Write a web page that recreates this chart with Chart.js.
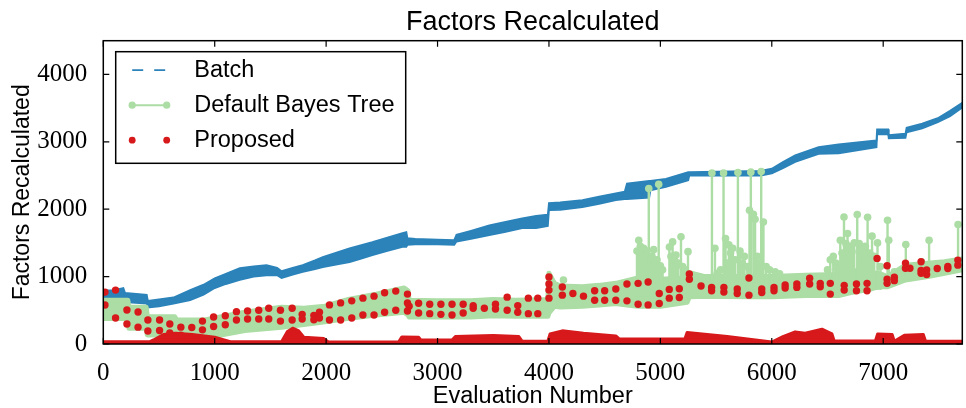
<!DOCTYPE html>
<html><head><meta charset="utf-8">
<script src="https://cdn.jsdelivr.net/npm/chart.js@4.4.1/dist/chart.umd.min.js"></script>
<style>html,body{margin:0;padding:0;background:#fff;}</style>
</head><body>
<canvas id="c" width="966" height="408"></canvas>
<script>
// ---------- text ----------
const titleText = 'Factors Recalculated';
const xLabel = 'Evaluation Number';
const yLabel = 'Factors Recalculated';
const seriesNames = ['Batch', 'Default Bayes Tree', 'Proposed'];
const xTicks = [0, 1000, 2000, 3000, 4000, 5000, 6000, 7000];
const yTicks = [0, 1000, 2000, 3000, 4000];

// ---------- Batch (band: lower / upper envelope) ----------
const batchX  = [0,100,180,195,390,400,500,630,780,900,1000,1100,1225,1350,1465,1560,1600,1700,1790,1900,1970,2100,2210,2300,2415,2550,2685,2720,2730,2800,3000,3150,3170,3300,3465,3600,3760,3885,3990,4000,4100,4300,4450,4600,4680,4700,4900,4910,5050,5250,5260,5900,6000,6100,6210,6420,6600,6940,6945,7045,7050,7200,7210,7350,7490,7600,7710];
const batchLo = [650,660,660,620,600,540,560,600,650,730,830,890,950,1000,1020,1020,980,1030,1070,1110,1140,1180,1215,1260,1320,1380,1440,1440,1470,1480,1480,1470,1520,1560,1615,1660,1720,1720,1750,1985,1990,2030,2080,2135,2150,2150,2170,2280,2330,2430,2500,2500,2530,2610,2700,2820,2830,2920,3110,3110,3050,3060,3140,3200,3290,3380,3510];
const batchHi = [790,800,830,760,730,640,660,690,800,880,975,1040,1125,1150,1170,1130,1080,1130,1170,1240,1290,1360,1420,1460,1510,1580,1645,1660,1570,1560,1550,1540,1620,1680,1760,1810,1865,1900,1920,2090,2100,2135,2185,2235,2260,2380,2420,2420,2450,2550,2550,2570,2600,2700,2800,2920,2960,3020,3185,3185,3100,3120,3210,3270,3350,3460,3580];

// ---------- Default Bayes Tree (band + spikes) ----------
const bayesX  = [0,220,230,385,395,640,660,910,1270,1600,1800,1990,2200,2450,2700,2735,2745,3000,3300,3500,3700,3990,4000,4050,4100,4300,4450,4600,4700,4800,5000,5240,5260,5400,5800,6000,6300,6600,6700,6900,6960,7040,7200,7400,7550,7710];
const bayesLo = [380,380,235,235,135,135,90,90,200,250,290,330,380,430,470,430,400,400,400,420,410,410,460,560,550,560,580,600,580,560,560,620,700,710,700,700,720,720,760,820,850,850,950,1000,1050,1100];
const bayesHi = [650,650,545,545,405,405,355,355,470,545,530,560,660,740,830,790,650,640,640,660,650,660,1050,900,860,850,870,900,940,980,960,980,1060,1000,1000,1000,1020,1030,1100,1050,1050,1000,1170,1200,1220,1260];
const spikeX    = [4130,4790,4806,4820,4835,4850,4865,4880,4896,4910,4925,4940,4955,4970,4985,5000,5020,5081,5095,5110,5125,5140,5160,5185,5200,5220,5248,5463,5490,5510,5540,5567,5585,5600,5615,5630,5650,5670,5696,5715,5735,5755,5780,5800,5812,5835,5850,5870,5890,5905,5925,5950,5980,6030,6070,6500,6525,6552,6575,6592,6615,6630,6648,6665,6680,6700,6720,6740,6767,6785,6805,6825,6840,6860,6880,6900,6920,6949,6975,7039,7050,7100,7203,7343,7412,7672];
const spikeTop  = [950,1380,1540,1450,1350,1420,1300,1380,2306,1250,1300,1400,1200,1250,2370,1160,1100,1440,1300,1515,1250,1320,1200,1590,1150,1100,1370,2538,1420,1050,1100,2538,1565,1200,1470,1350,1420,1250,2545,1380,1200,1300,1150,1985,2550,1925,1850,1300,1200,2560,1810,1150,1100,1070,1040,1100,1250,1300,1200,1120,1540,1350,1885,1490,1640,1450,1370,1500,1920,1490,1400,1300,1450,1880,1350,1600,1300,1500,1150,1837,1540,1070,1477,1220,1540,1773];
const spikeBase = [600,700,700,700,700,700,700,700,700,700,700,700,700,700,700,700,700,750,750,750,750,750,750,750,750,750,750,800,800,800,800,800,800,800,800,800,800,800,800,800,800,800,800,800,800,800,800,800,800,800,800,800,800,800,800,800,800,800,800,800,800,800,800,800,800,800,800,800,800,800,800,800,800,800,800,800,800,800,800,900,900,950,1000,1050,1050,1150];

// ---------- Proposed ----------
const propDotX    = [15,110,212,312,400,505,597,696,794,890,990,1095,1195,1295,1395,1485,1590,1695,1785,1890,1940,2030,2130,2230,2330,2430,2525,2625,2730,2830,2930,3030,3130,3230,3320,3420,3520,3625,3720,3815,3900,4000,4120,4215,4310,4410,4500,4600,4700,4800,4890,4990,5080,5170,5260,5365,5460,5570,5690,5795,5910,6020,6120,6225,6340,6435,6525,6650,6760,6855,6945,7035,7100,7200,7340,7390,7485,7580,7670];
const propDotHigh = [770,800,505,475,355,355,296,250,245,340,400,420,480,490,500,530,500,530,440,425,470,580,610,640,680,710,760,785,740,605,590,590,590,590,570,530,590,695,570,680,680,995,845,750,710,790,790,815,890,900,920,750,810,820,1040,860,840,840,815,980,815,840,875,890,975,900,900,870,890,900,1270,1160,990,1200,1220,1100,1120,1150,1245];
const propDotLow  = [578,385,296,250,193,200,163,130,null,210,260,285,355,370,370,370,340,355,370,360,385,355,355,385,430,430,470,500,490,460,450,440,430,460,530,null,520,500,470,450,450,800,725,null,null,650,650,650,640,590,580,600,680,690,960,null,790,770,750,725,765,790,830,840,890,850,740,800,790,790,null,960,940,1125,1090,1030,null,1120,1170];
const propExtraX  = [2730,2745,4000,4000,7035,7240,7340];
const propExtraY  = [610,560,890,680,900,1125,1050];
const propLowX = [0,420,450,540,650,800,1000,1140,1600,1650,1700,1750,1800,1980,2020,2650,2680,2830,2850,3130,3160,3500,3730,3760,3990,4010,4120,4310,4600,4630,5220,5240,5600,6000,6100,6210,6300,6450,6540,6560,6930,6950,7080,7100,7190,7360,7380,7710];
const propLowY = [35,35,60,140,160,140,100,35,35,180,235,200,100,80,30,30,105,100,60,60,110,125,110,40,40,150,195,160,120,75,75,170,110,30,110,180,160,220,150,45,45,150,140,40,130,140,40,40];

// ---------- colours ----------
const BLUE = '#2b83ba', GREEN = '#abdda4', RED = '#d7191c';
const SANS = "'Liberation Sans', Arial, Helvetica, sans-serif";
const SERIF = "'Liberation Serif', 'Times New Roman', serif";

// ---------- build library data ----------
const xy = (xs, ys) => xs.map((x, i) => ({x, y: ys[i]}));
const propDots = [];
propDotX.forEach((x, i) => {
  propDots.push({x, y: propDotHigh[i]});
  if (propDotLow[i] !== null) propDots.push({x, y: propDotLow[i]});
});
propExtraX.forEach((x, i) => propDots.push({x, y: propExtraY[i]}));
const spikeData = [], spikeRadius = [];
spikeX.forEach((x, i) => {
  spikeData.push({x, y: spikeBase[i]}, {x, y: spikeTop[i]}, {x, y: null});
  spikeRadius.push(0, 3.8, 0);
});

const frame = {
  id: 'frame',
  afterDatasetsDraw(chart) {
    const {ctx, chartArea: a, scales: {x, y}} = chart;
    ctx.save();
    ctx.strokeStyle = '#000';
    ctx.lineWidth = 1.5;
    ctx.strokeRect(a.left, a.top, a.right - a.left, a.bottom - a.top);
    ctx.lineWidth = 1.2;
    ctx.beginPath();
    xTicks.forEach(v => { const p = x.getPixelForValue(v);
      ctx.moveTo(p, a.bottom); ctx.lineTo(p, a.bottom - 6);
      ctx.moveTo(p, a.top); ctx.lineTo(p, a.top + 6); });
    yTicks.forEach(v => { const p = y.getPixelForValue(v);
      ctx.moveTo(a.left, p); ctx.lineTo(a.left + 6, p);
      ctx.moveTo(a.right, p); ctx.lineTo(a.right - 6, p); });
    ctx.stroke();
    ctx.restore();
  },
  afterDraw(chart) {
    const {ctx, chartArea: a} = chart;
    const bx = a.left + 12.4, by = a.top + 11, bw = 290, bh = 111.6;
    ctx.save();
    ctx.fillStyle = '#fff';
    ctx.fillRect(bx, by, bw, bh);
    ctx.strokeStyle = '#000'; ctx.lineWidth = 1.5;
    ctx.strokeRect(bx, by, bw, bh);
    const rows = [18.5, 53.5, 88.5];
    const sx0 = bx + 16.5, sx1 = bx + 51;
    // Batch: dashed
    let ry = by + rows[0];
    ctx.strokeStyle = BLUE; ctx.lineWidth = 1.8;
    ctx.beginPath(); ctx.moveTo(sx0, ry); ctx.lineTo(sx0 + 11, ry);
    ctx.moveTo(sx0 + 22, ry); ctx.lineTo(sx0 + 33, ry); ctx.stroke();
    // Bayes tree: line + markers
    ry = by + rows[1];
    ctx.strokeStyle = GREEN; ctx.lineWidth = 2;
    ctx.beginPath(); ctx.moveTo(sx0, ry); ctx.lineTo(sx1, ry); ctx.stroke();
    ctx.fillStyle = GREEN;
    [sx0, sx1].forEach(px => { ctx.beginPath(); ctx.arc(px, ry, 3.6, 0, Math.PI * 2); ctx.fill(); });
    // Proposed: markers only
    ry = by + rows[2];
    ctx.fillStyle = RED;
    [sx0, sx1].forEach(px => { ctx.beginPath(); ctx.arc(px, ry, 3.4, 0, Math.PI * 2); ctx.fill(); });
    ctx.fillStyle = '#000';
    ctx.font = '23.5px ' + SANS;
    ctx.textBaseline = 'middle'; ctx.textAlign = 'left';
    seriesNames.forEach((t, i) => ctx.fillText(t, bx + 78.6, by + rows[i] + 0.5));
    ctx.restore();
  }
};

new Chart(document.getElementById('c'), {
  type: 'line',
  data: {
    datasets: [
      {label: seriesNames[2], data: propDots, showLine: false, pointRadius: 3.7, pointHoverRadius: 3.7,
       pointBackgroundColor: RED, pointBorderWidth: 0, borderColor: RED, order: 0, clip: 0},
      {label: seriesNames[2] + ' (low)', data: xy(propLowX, propLowY), fill: 'origin', backgroundColor: RED,
       borderColor: RED, borderWidth: 3, borderJoinStyle: 'round', pointRadius: 0, order: 1, clip: 0},
      {label: seriesNames[1] + ' (spikes)', data: spikeData, borderColor: GREEN, borderWidth: 2.4,
       pointRadius: spikeRadius, pointBackgroundColor: GREEN, pointBorderWidth: 0, spanGaps: false, order: 2, clip: 0},
      {label: seriesNames[1], data: xy(bayesX, bayesHi), fill: '+1', backgroundColor: GREEN, borderColor: GREEN,
       borderWidth: 5, borderJoinStyle: 'round', borderCapStyle: 'round', pointRadius: 0, order: 3, clip: 0},
      {label: seriesNames[1] + ' (low)', data: xy(bayesX, bayesLo), borderColor: GREEN, borderWidth: 5,
       borderJoinStyle: 'round', borderCapStyle: 'round', pointRadius: 0, order: 4, clip: 0},
      {label: seriesNames[0], data: xy(batchX, batchHi), fill: '+1', backgroundColor: BLUE, borderColor: BLUE,
       borderWidth: 1.8, pointRadius: 0, order: 5, clip: 0},
      {label: seriesNames[0] + ' (low)', data: xy(batchX, batchLo), borderColor: BLUE, borderWidth: 1.8,
       pointRadius: 0, order: 6, clip: 0}
    ]
  },
  options: {
    responsive: false, animation: false, devicePixelRatio: 1,
    events: [],
    layout: {padding: {left: 0, right: 2, top: 0, bottom: 0}},
    scales: {
      x: {
        type: 'linear', min: 0, max: 7710,
        afterBuildTicks: s => { s.ticks = xTicks.map(v => ({value: v})); },
        afterFit: s => { s.height = 64; },
        grid: {display: false}, border: {display: false},
        ticks: {color: '#000', padding: 6, maxRotation: 0, autoSkip: false,
                font: {family: SERIF, size: 25}, callback: v => String(v)},
        title: {display: true, text: xLabel, color: '#000', font: {family: SANS, size: 23.5, lineHeight: 1.0},
                padding: {top: 0, bottom: 0}}
      },
      y: {
        type: 'linear', min: 0, max: 4500,
        afterBuildTicks: s => { s.ticks = yTicks.map(v => ({value: v})); },
        afterFit: s => { s.width = 103.3; },
        grid: {display: false}, border: {display: false},
        ticks: {color: '#000', padding: 8, font: {family: SERIF, size: 25}, callback: v => String(v)},
        title: {display: true, text: yLabel, color: '#000', font: {family: SANS, size: 23},
                padding: {top: 9, bottom: 0}}
      }
    },
    plugins: {
      legend: {display: false},
      tooltip: {enabled: false},
      title: {display: true, text: titleText, fullSize: false, color: '#000',
              font: {family: SANS, size: 27, weight: 'normal'}, padding: {top: 6, bottom: 2.3}}
    }
  },
  plugins: [frame]
});
</script>
</body></html>
